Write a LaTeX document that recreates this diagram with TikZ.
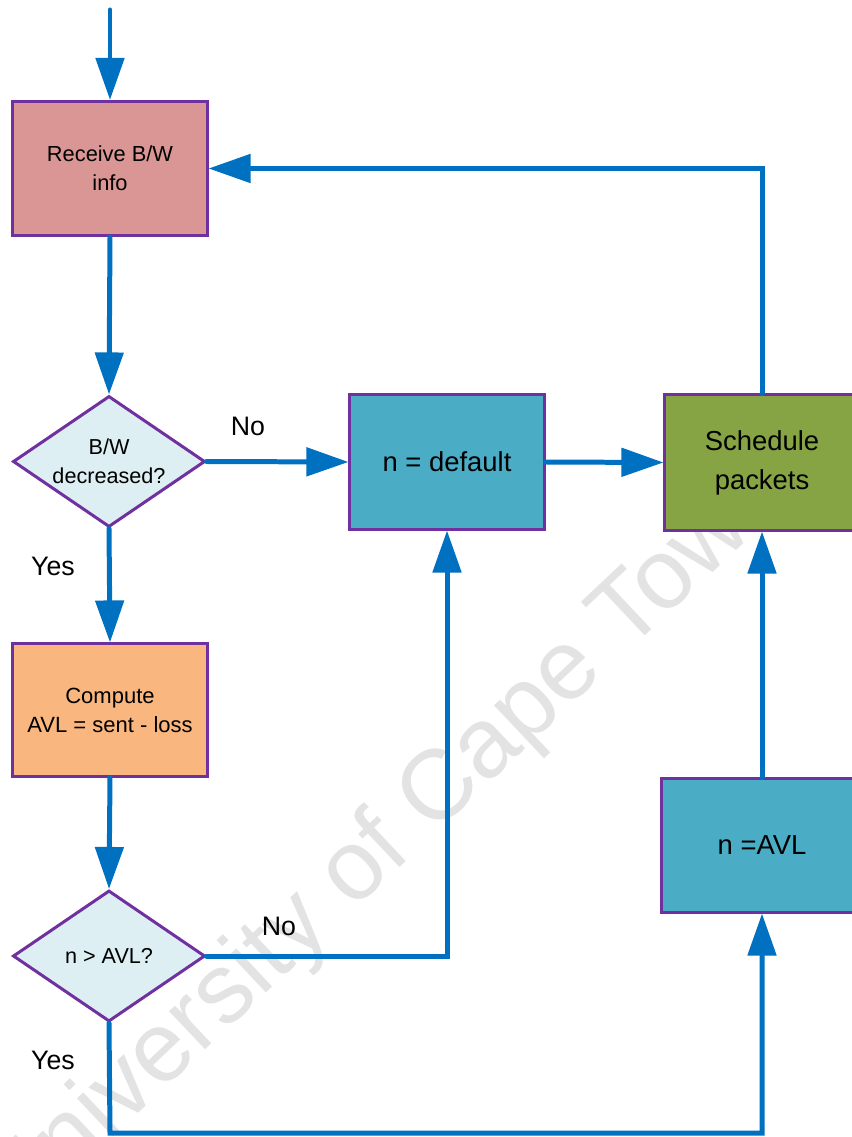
\documentclass[tikz,border=0pt]{standalone}
\usepackage{fontspec}
\setmainfont{Liberation Sans}
\usetikzlibrary{shapes.geometric,arrows.meta}

\definecolor{flowblue}{HTML}{0070C0}
\definecolor{edgepurple}{HTML}{7030A0}
\definecolor{recvfill}{HTML}{D99694}
\definecolor{decfill}{HTML}{DDEFF3}
\definecolor{setfill}{HTML}{4BACC6}
\definecolor{schedfill}{HTML}{86A443}
\definecolor{compfill}{HTML}{F9B67E}
\definecolor{markgray}{HTML}{E3E3E3}

\tikzset{
  procbox/.style={rectangle, draw=edgepurple, line width=0.85pt,
    minimum width=1.94cm, minimum height=1.34cm, inner sep=0pt, align=center},
  decbox/.style={diamond, draw=edgepurple, line width=0.85pt, fill=decfill,
    minimum width=1.92cm, minimum height=1.31cm, inner sep=0pt, aspect=1.47,
    align=center, font=\fontsize{6.15}{8.25}\selectfont},
  smalltext/.style={font=\fontsize{6.2}{8.25}\selectfont},
  midtext/.style={font=\fontsize{6.26}{8.25}\selectfont},
  bigtext/.style={font=\fontsize{7.8}{11.1}\selectfont},
  branchlabel/.style={font=\fontsize{7.6}{9}\selectfont, inner sep=0pt},
  flow/.style={draw=flowblue, line width=1.42pt, line cap=round,
    -{Triangle[length=4.2mm,width=2.8mm]}}
}

\begin{document}
\begin{tikzpicture}[x=0.01cm, y=-0.01cm]
  \useasboundingbox (0,0) rectangle (852,1137);
  \clip (0,0) rectangle (852,1137);
  \fill[white] (0,0) rectangle (852,1137);

  % background watermark
  \node[text=markgray, rotate=43.3, font=\fontsize{28.2}{30}\selectfont, inner sep=0pt]
    (mark) at (388,843) {University of Cape Town};

  % process and decision nodes
  \node[procbox, fill=recvfill, smalltext] (recv) at (110,168.5) {Receive B/W\\info};
  \node[decbox] (dec1) at (109,461.5) {B/W\\decreased?};
  \node[procbox, fill=setfill, bigtext] (ndef) at (447,462) {n = default};
  \node[procbox, fill=schedfill, bigtext, minimum height=1.35cm] (sched) at (762,462.5) {Schedule\\packets};
  \node[procbox, fill=compfill, midtext, minimum height=1.32cm] (comp) at (110,710) {Compute\\AVL = sent - loss};
  \node[decbox] (dec2) at (109,956) {n > AVL?};
  \node[procbox, fill=setfill, bigtext, minimum width=2cm, minimum height=1.33cm] (navl) at (762,845.5) {n =AVL};

  % branch labels
  \node[branchlabel] (no1) at (248,426) {No};
  \node[branchlabel] (yes1) at (53,566) {Yes};
  \node[branchlabel] (no2) at (279,926) {No};
  \node[branchlabel] (yes2) at (53,1060) {Yes};

  % helper points for the open entry and the bottom loop
  \coordinate (entry) at (110,10);
  \coordinate (loopcorner) at (110,1133);

  % connectors
  \draw[flow] (entry) -- (recv.north);
  \draw[flow] (recv.south) -- (dec1.north);
  \draw[flow] (dec1.east) -- (ndef.west);
  \draw[flow] (ndef.east) -- (sched.west);
  \draw[flow] (sched.north) |- (recv.east);
  \draw[flow] (dec1.south) -- (comp.north);
  \draw[flow] (comp.south) -- (dec2.north);
  \draw[flow] (dec2.east) -| (ndef.south);
  \draw[flow] (dec2.south) -- (loopcorner) -| (navl.south);
  \draw[flow] (navl.north) -- (sched.south);
\end{tikzpicture}
\end{document}
